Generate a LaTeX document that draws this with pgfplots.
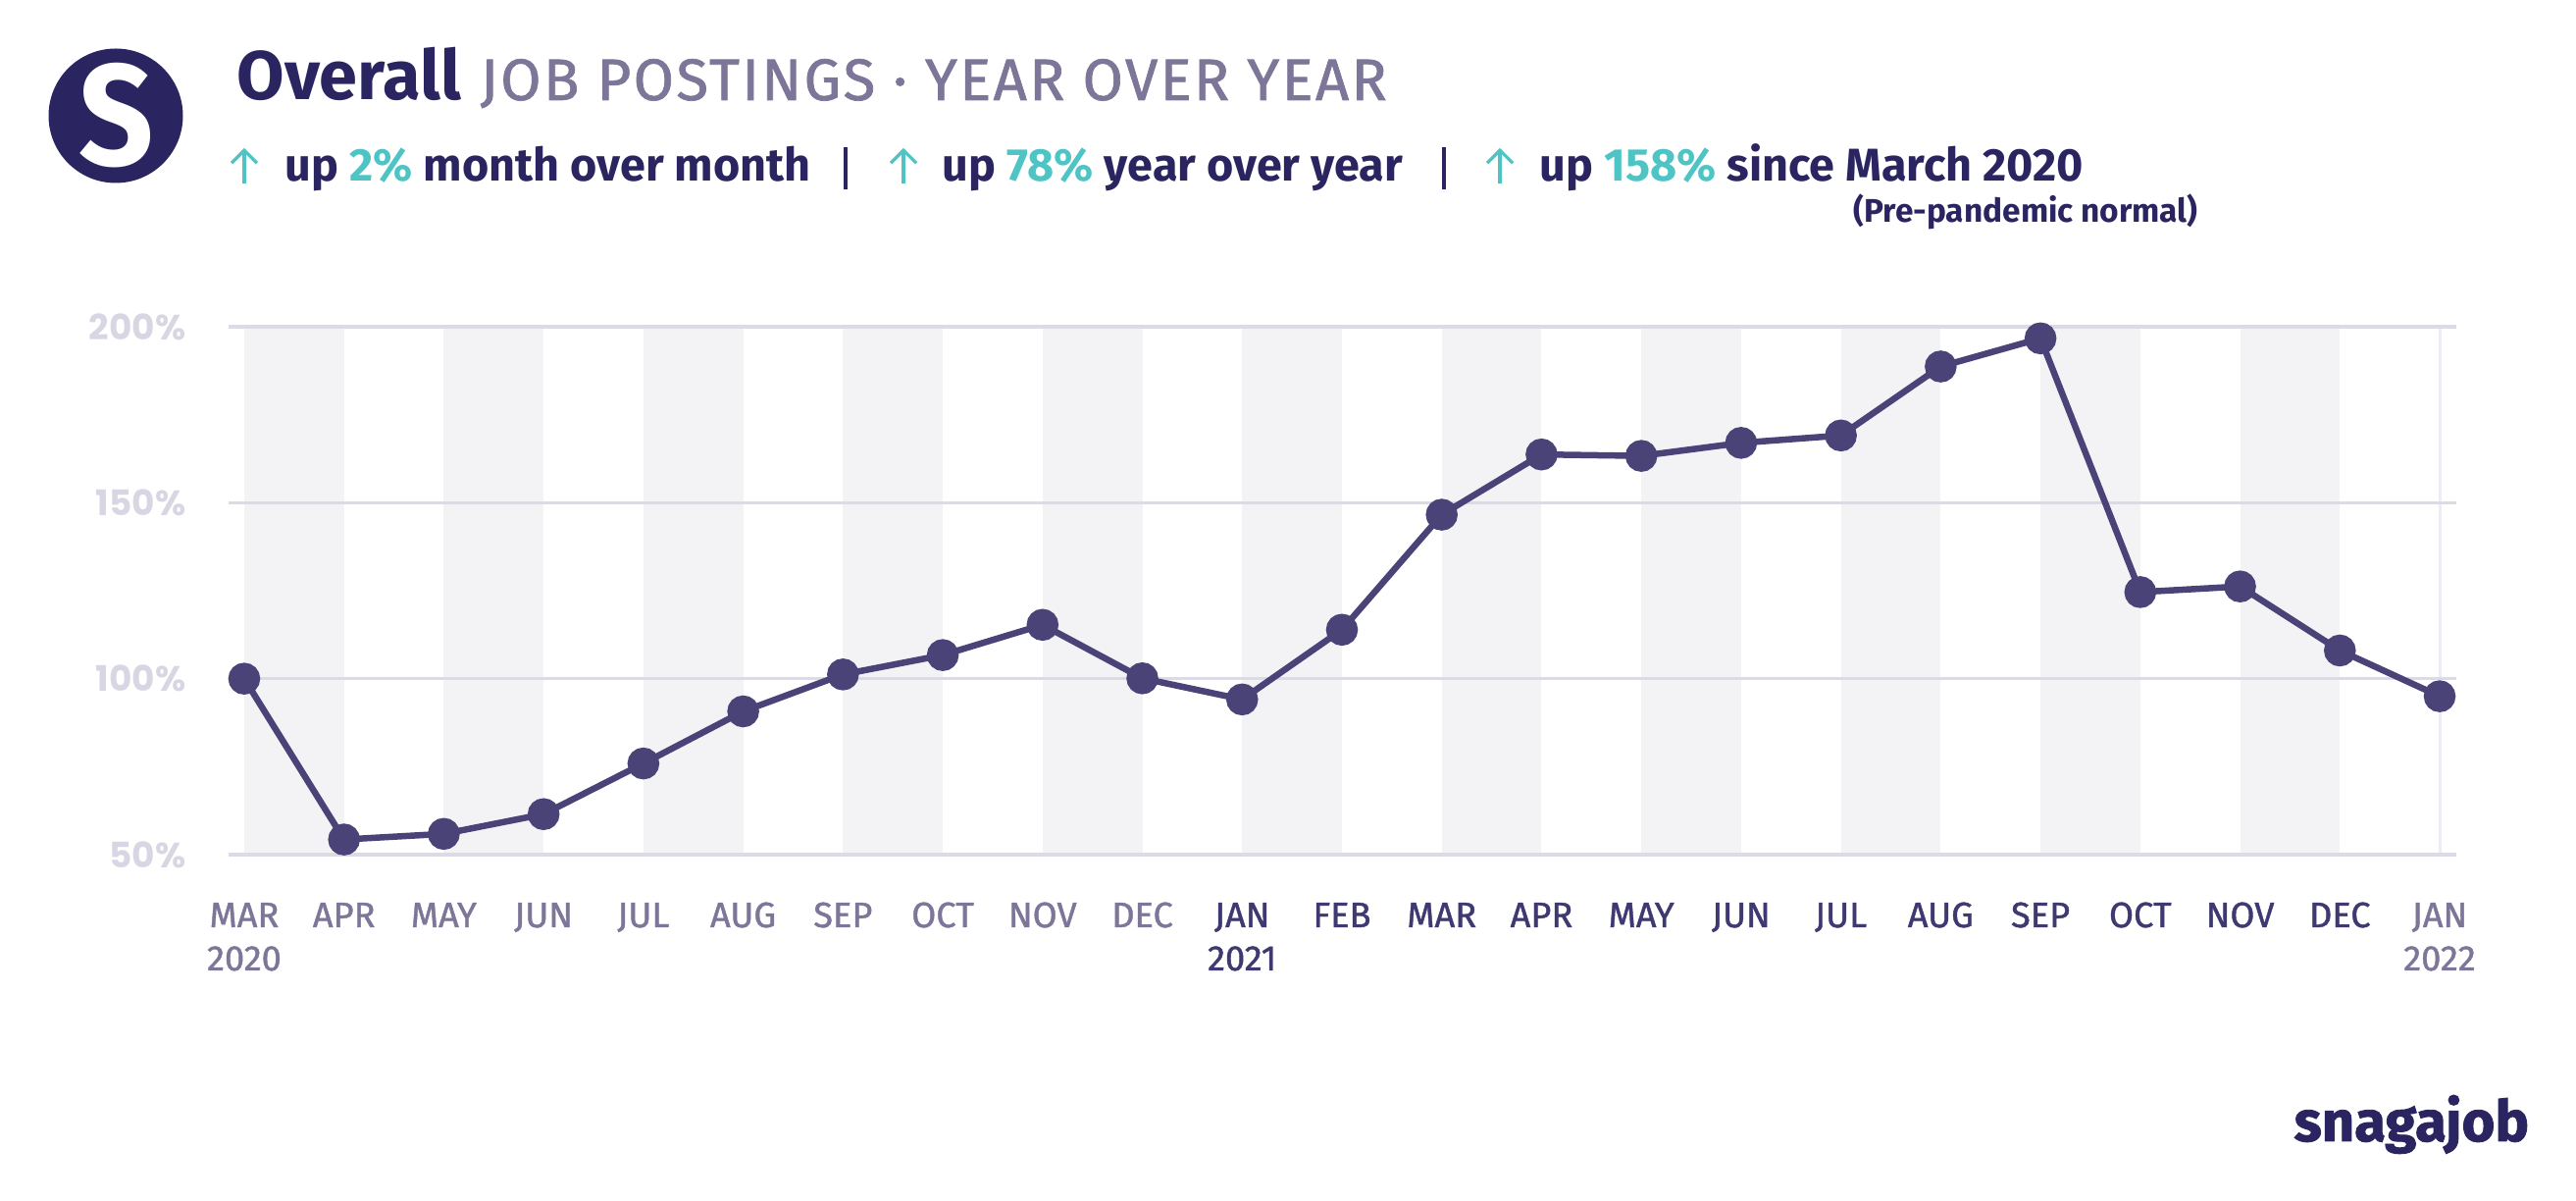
\documentclass[border=0pt]{standalone}
\usepackage{pgfplots}
\usepackage{pgfplotstable}
\pgfplotsset{compat=1.18}
\usepackage{fontspec}
\setmainfont{Fira Sans}
\newfontfamily\pop{Poppins}
\newfontfamily\firamed{Fira Sans}[FakeBold=1.2]
\newfontfamily\firaheavy{Fira Sans}[UprightFont=*, BoldFeatures={FakeBold=1.5}]
\usetikzlibrary{arrows.meta}
\definecolor{navy}{HTML}{2A2560}
\definecolor{subgray}{HTML}{7E7699}
\definecolor{tealc}{HTML}{4FC4C4}
\definecolor{linec}{HTML}{4A4377}
\definecolor{labA}{HTML}{7E7699}
\definecolor{labB}{HTML}{3E3970}
\definecolor{ytc}{HTML}{D8D6E2}
\definecolor{gridc}{HTML}{DCDAE5}
\definecolor{band}{HTML}{F3F3F6}
\definecolor{vline}{HTML}{EDECF2}
\newcommand{\la}[1]{\textcolor{labA}{#1}}
\newcommand{\lb}[1]{\textcolor{labB}{#1}}
\pgfplotstableread{
x y
0 100.0
1 54.3
2 55.9
3 61.5
4 75.9
5 90.7
6 101.2
7 106.7
8 115.3
9 100.1
10 94.1
11 113.9
12 146.6
13 163.7
14 163.3
15 167.0
16 169.1
17 188.7
18 196.7
19 124.6
20 126.2
21 108.0
22 95.0
}\datatable
\begin{document}
\begin{tikzpicture}
\useasboundingbox (0,0) rectangle (262.6mm,122.4mm);
% logo
\fill[navy] (11.8mm,110.6mm) circle (6.85mm);
\node[text=white, font=\bfseries\fontsize{38}{40}\selectfont, inner sep=0, yscale=1.1] at (11.9mm,110.6mm) {S};
% title
\node[anchor=base west, inner sep=0, text=navy, font=\bfseries\fontsize{20}{24}\selectfont] at (24.1mm,112.2mm) {Overall};
\node[anchor=base west, inner sep=0, text=subgray, font=\firamed\fontsize{17}{20}\selectfont\addfontfeatures{LetterSpace=4}] at (48.9mm,112.2mm) {JOB POSTINGS · YEAR OVER YEAR};
% subtitle line
\tikzset{sub/.style={anchor=base west, inner sep=0, text=navy, font=\bfseries\fontsize{13.3}{15}\selectfont}}
\foreach \ax in {24.9,92.1,152.9}{
  \draw[tealc, line width=0.32mm, -{Straight Barb[length=1.3mm, width=2.6mm]}] (\ax mm,103.7mm) -- (\ax mm,107.3mm);
}
\node[sub] at (29.0mm,103.9mm) {up \textcolor{tealc}{2\%} month over month};
\node[sub] at (96.0mm,103.9mm) {up \textcolor{tealc}{78\%} year over year};
\node[sub] at (156.9mm,103.9mm) {up \textcolor{tealc}{158\%} since March 2020};
\draw[navy, line width=0.4mm] (86.2mm,103.1mm) -- (86.2mm,107.4mm);
\draw[navy, line width=0.4mm] (147.2mm,103.1mm) -- (147.2mm,107.4mm);
\node[anchor=base west, inner sep=0, text=navy, font=\bfseries\fontsize{9.5}{11}\selectfont] at (188.9mm,99.7mm) {(Pre-pandemic normal)};
% brand
\node[anchor=base west, inner sep=0, text=navy, font=\firaheavy\bfseries\fontsize{16.5}{18}\selectfont] at (233.8mm,6.1mm) {snagajob};
\begin{axis}[
  at={(23.3mm,35.3mm)}, anchor=south west,
  width=227.1mm, height=53.8mm, scale only axis,
  xmin=-0.157, xmax=22.167, ymin=50, ymax=200,
  clip=false,
  axis line style={draw=none},
  major tick length=0pt,
  xtick={0,...,22},
  xticklabels={\la{MAR},\la{APR},\la{MAY},\la{JUN},\la{JUL},\la{AUG},\la{SEP},\la{OCT},\la{NOV},\la{DEC},\lb{JAN},\lb{FEB},\lb{MAR},\lb{APR},\lb{MAY},\lb{JUN},\lb{JUL},\lb{AUG},\lb{SEP},\lb{OCT},\lb{NOV},\lb{DEC},\la{JAN}},
  xticklabel style={anchor=base, yshift=-7.4mm, inner sep=0, font=\firamed\fontsize{10.3}{12}\selectfont},
  ytick={50,100,150,200},
  yticklabels={50\%\hspace{1mm},100\%,150\%,200\%},
  yticklabel style={anchor=east, inner sep=0, xshift=-4.3mm, text=ytc, font=\pop\bfseries\fontsize{10.2}{12}\selectfont},
]
% bands
\addplot[fill=band, draw=none, forget plot] coordinates {(0,50) (0,200) (1,200) (1,50)} -- cycle;
\addplot[fill=band, draw=none, forget plot] coordinates {(2,50) (2,200) (3,200) (3,50)} -- cycle;
\addplot[fill=band, draw=none, forget plot] coordinates {(4,50) (4,200) (5,200) (5,50)} -- cycle;
\addplot[fill=band, draw=none, forget plot] coordinates {(6,50) (6,200) (7,200) (7,50)} -- cycle;
\addplot[fill=band, draw=none, forget plot] coordinates {(8,50) (8,200) (9,200) (9,50)} -- cycle;
\addplot[fill=band, draw=none, forget plot] coordinates {(10,50) (10,200) (11,200) (11,50)} -- cycle;
\addplot[fill=band, draw=none, forget plot] coordinates {(12,50) (12,200) (13,200) (13,50)} -- cycle;
\addplot[fill=band, draw=none, forget plot] coordinates {(14,50) (14,200) (15,200) (15,50)} -- cycle;
\addplot[fill=band, draw=none, forget plot] coordinates {(16,50) (16,200) (17,200) (17,50)} -- cycle;
\addplot[fill=band, draw=none, forget plot] coordinates {(18,50) (18,200) (19,200) (19,50)} -- cycle;
\addplot[fill=band, draw=none, forget plot] coordinates {(20,50) (20,200) (21,200) (21,50)} -- cycle;
\addplot[vline, line width=0.3mm, forget plot] coordinates {(22,50) (22,200)};
% grid
\addplot[gridc, line width=0.35mm, forget plot] coordinates {(-0.157,50) (22.167,50)};
\addplot[gridc, line width=0.35mm, forget plot] coordinates {(-0.157,100) (22.167,100)};
\addplot[gridc, line width=0.35mm, forget plot] coordinates {(-0.157,150) (22.167,150)};
\addplot[gridc, line width=0.35mm, forget plot] coordinates {(-0.157,200) (22.167,200)};
% data
\addplot[linec, line width=0.65mm, mark=*, mark size=1.3mm, mark options={fill=linec, draw=none}] table[x=x, y=y] {\datatable};
% years
\node[anchor=base, inner sep=0, text=labA, font=\firamed\fontsize{10.3}{12}\selectfont] at (axis cs:0,50) [yshift=-11.8mm] {2020};
\node[anchor=base, inner sep=0, text=labB, font=\firamed\fontsize{10.3}{12}\selectfont] at (axis cs:10,50) [yshift=-11.8mm] {2021};
\node[anchor=base, inner sep=0, text=labA, font=\firamed\fontsize{10.3}{12}\selectfont] at (axis cs:22,50) [yshift=-11.8mm] {2022};
\end{axis}
\end{tikzpicture}
\end{document}
